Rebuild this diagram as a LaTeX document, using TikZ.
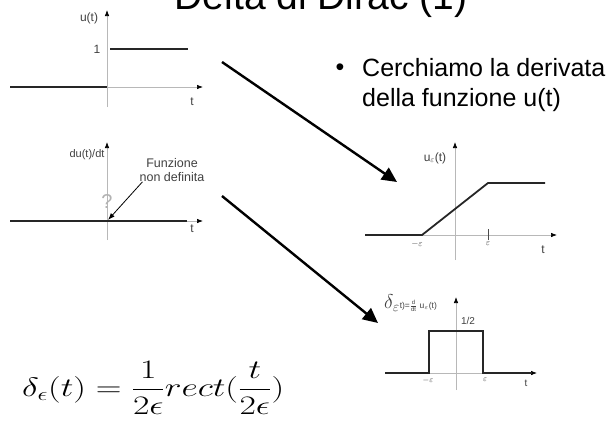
\RequirePackage{fix-cm}
\documentclass[tikz,border=0pt]{standalone}
\usepackage{amsmath}
\usepackage{graphicx}
\usepackage{fontspec}
\setsansfont{Liberation Sans}
\renewcommand{\familydefault}{\sfdefault}
\usetikzlibrary{arrows.meta}

\begin{document}
\begin{tikzpicture}[x=1pt,y=-1pt,
  asse/.style={draw=black!28, line width=0.7pt, -{Latex[length=6pt,width=4.5pt,color=black]}},
  curva/.style={line width=1.8pt, black!85},
  freccia/.style={-{Triangle[length=15pt,width=14pt]}, line width=2.4pt},
  etich/.style={font=\fontsize{11}{12}\selectfont, text=black!75, inner sep=0pt},
  minima/.style={font=\fontsize{9}{10}\selectfont, text=black!75, inner sep=0pt}]
  \useasboundingbox (0,0) rectangle (610,424);
  \clip (0,0) rectangle (610,424);
  % titolo
  \node[font=\fontsize{39}{44}\selectfont, anchor=base] (TI) at (321,9) {Delta di Dirac (1)};
  % gradino u(t)
  \draw[asse] (107,107) -- (107,10);
  \draw[asse] (10,87) -- (203,87);
  \draw[curva] (10,87) -- (107,87);
  \draw[curva] (110,49) -- (188,49);
  \node[etich, font=\fontsize{12}{13}\selectfont] (U1) at (89,18) {u(t)};
  \node[etich, font=\fontsize{12}{13}\selectfont] (UN) at (97,49) {1};
  \node[etich, font=\fontsize{12}{13}\selectfont] (T1) at (192,102) {t};
  % derivata du(t)/dt
  \draw[asse] (107,240) -- (107,142);
  \draw[asse] (10,221) -- (203,221);
  \draw[curva] (10,221) -- (187,221);
  \coordinate (O2) at (108,220);
  \node[etich] (DU) at (87,155) {du(t)/dt};
  \node[etich, font=\fontsize{12.5}{14}\selectfont, align=center] (FN) at (172,170) {Funzione\\non definita};
  \node[font=\fontsize{20}{20}\selectfont, text=black!30, inner sep=0pt] (QU) at (107,202) {?};
  \node[etich, font=\fontsize{12}{13}\selectfont] (T2) at (192,229) {t};
  \draw[-{Latex[length=7pt,width=5pt]}, line width=0.8pt] ([xshift=3pt]FN.south west) -- (O2);
  % rampa u_eps(t)
  \draw[asse] (455,260) -- (455,142);
  \draw[asse] (365,235) -- (557,235);
  \draw[curva] (365,235) -- (422,235) -- (488,183) -- (545,183);
  \draw[black!70, line width=0.8pt] (488,229) -- (488,240);
  \node[etich, font=\fontsize{12}{13}\selectfont] (U3) at (435,158) {u$_\varepsilon$(t)};
  \node[minima] (ME3) at (417,244) {$-\varepsilon$};
  \node[minima] (PE3) at (488,244) {$\varepsilon$};
  \node[etich, font=\fontsize{12}{13}\selectfont] (T3) at (543,250) {t};
  % impulso delta_eps(t)
  \draw[asse] (456,390) -- (456,297);
  \draw[asse] (385,373) -- (537,373);
  \draw[curva] (385,373) -- (429,373) -- (429,331) -- (483,331) -- (483,373) -- (532,373);
  \node[etich, font=\fontsize{10}{11}\selectfont] (UM) at (468,321) {1/2};
  \node[minima, font=\fontsize{8}{9}\selectfont] (ME4) at (428,380) {$-\varepsilon$};
  \node[minima, font=\fontsize{8}{9}\selectfont] (PE4) at (485,380) {$\varepsilon$};
  \node[etich, font=\fontsize{10}{11}\selectfont] (T4) at (526,383) {t};
  \node[etich, anchor=west] (DE) at (384,303)
    {{\fontsize{20}{20}\selectfont$\delta_{\varepsilon}$}{\fontsize{8.5}{9}\selectfont t)=$\frac{\textsf{d}}{\textsf{dt}}$ u$_\varepsilon$(t)}};
  % frecce
  \coordinate (A1) at (222,62);
  \coordinate (B1) at (397,182);
  \coordinate (A2) at (222,196);
  \coordinate (B2) at (378,323);
  \draw[freccia] (A1) -- (B1);
  \draw[freccia] (A2) -- (B2);
  % testo
  \node[font=\fontsize{25}{30}\selectfont, inner sep=0pt] (BL) at (340,70) {•};
  \node[font=\fontsize{25}{30}\selectfont, align=left, anchor=west, inner sep=0pt] (TX) at (362,85)
    {Cerchiamo la derivata\\della funzione u(t)};
  % formula
  \node[font=\fontsize{29}{35}\selectfont, anchor=west, inner sep=0pt] (FO) at (22,388)
    {\scalebox{1.23}[0.92]{$\displaystyle \delta_\epsilon(t)=\frac{1}{2\epsilon}rect(\frac{t}{2\epsilon})$}};
\end{tikzpicture}
\end{document}
